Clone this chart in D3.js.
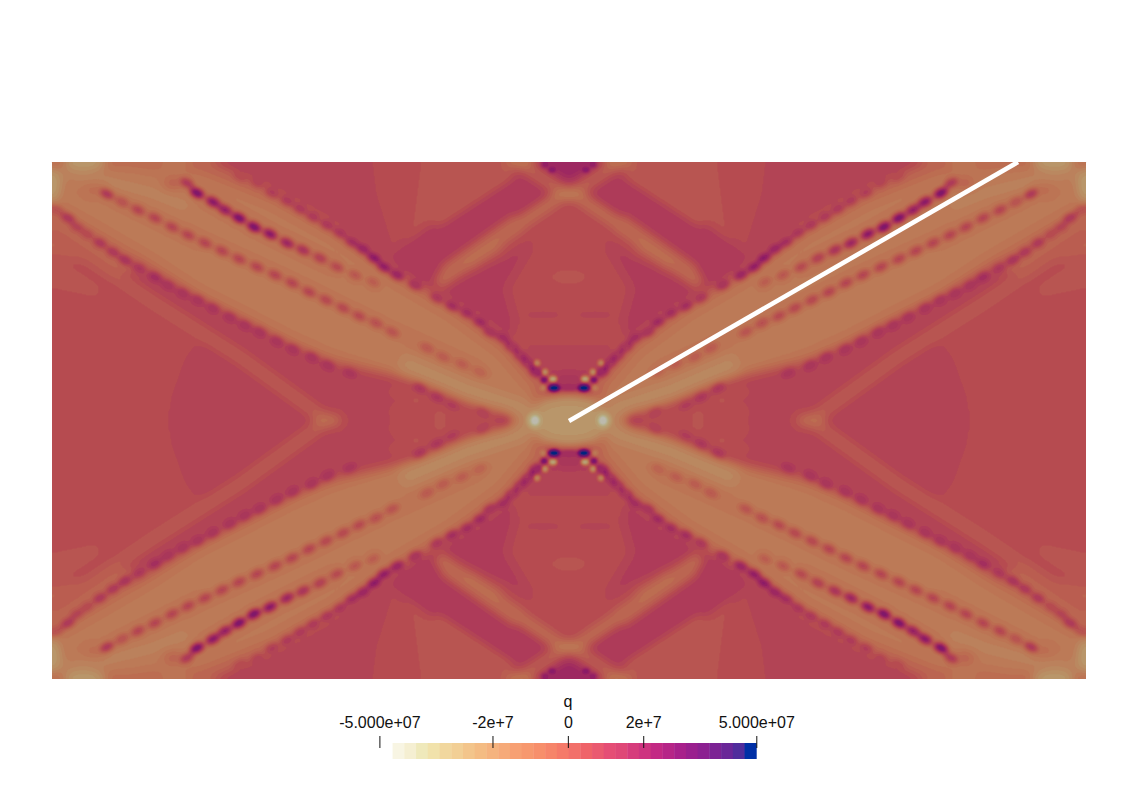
<!DOCTYPE html>
<html>
<head>
<meta charset="utf-8">
<title>q</title>
<script src="https://cdn.jsdelivr.net/npm/d3@7"></script>
<style>
  body { margin: 0; background: #fff; }
  text { font-family: "Liberation Sans", Arial, sans-serif; fill: #111; }
</style>
</head>
<body>
<div id="chart"></div>
<script>
const barColors = ["#f8f5e3","#f5efd2","#efe9bb","#f1e2ab","#f1d79e","#f2cf95","#f3c58b","#f4bc83",
  "#f5b37e","#f6aa79","#f7a073","#f7986e","#f78f6b","#f6856a","#f57a69","#f2706a","#ef6369","#ea5a70",
  "#e54e75","#df4877","#d63c7c","#ce3480","#c32984","#b62587","#a8208b","#9a1f8e","#8c2091","#7c2294",
  "#6a2698","#502c9c","#002fa6"];
const tickValues = [-5e7, -2e7, 0, 2e7, 5e7];
const tickLabels = ["-5.000e+07", "-2e+7", "0", "2e+7", "5.000e+07"];
const qMin = -4.65e7, qMax = 5e7;

// the field is mirrored about both axes, so only the top-left quarter is listed.
const meshX = [52, 1086], meshY = [162, 679];
const qBackground = 0.6;

// [q, outline]
const patches = [
  [0.25, [[52,250],[105,285],[100,302],[52,292]]],
  [0.85, [[173,430],[177,397],[190,360],[205,340],[150,300],[115,272],[150,262],[200,292],[330,358],[355,368],[360,430]]],
  [0.85, [[200,162],[367,162],[371,195],[385,240],[395,262],[410,290],[330,260],[250,210]]],
  [0.25, [[417,162],[520,162],[440,218],[407,242]]],
  [1.25, [[520,173],[553,195],[445,265],[437,290],[427,295],[393,272],[392,255],[440,218]]],
  [1.15, [[530,243],[507,258],[440,287],[428,298],[470,318],[510,352],[512,320],[503,288]]],
  [2.1, [[533,160],[569,183],[569,160]]],
  [0.45, [[505,350],[569,350],[569,322],[528,322]]],
  [0.8, [[520,345],[569,345],[569,385],[545,380]]],
  // fringe round the broad band
  [-0.5, [[50,160],[205,160],[270,188],[327,220],[373,253],[393,268],[453,303],[480,318],[513,344],[542,375],[550,400],[530,420],[500,412],[420,384],[350,367],[328,364],[293,347],[245,322],[197,300],[150,274],[100,268],[50,250]]],
  // body of the broad band
  [-1.25, [[50,166],[130,166],[200,174],[270,202],[330,235],[390,278],[450,313],[500,350],[532,388],[532,420],[500,408],[420,378],[350,361],[328,355],[293,340],[245,315],[197,291],[150,260],[100,231],[50,203]]],
  // wedge between the two arms, darker towards the crossing
  [0.7, [[328,420],[350,372],[420,388],[420,430],[328,430]]],
  [0.4, [[405,385],[510,413],[520,430],[395,430]]]
];

// [q, width, path]
const ridges = [
  [0.0, 18, [[510,170],[433,220]]],
  [-0.1, 20, [[520,222],[445,275]]],
  [-0.7, 13, [[558,198],[500,237],[450,272],[438,285]]],
  [-0.95, 8, [[500,245],[467,265]]],
  [-0.3, 10, [[560,190],[522,165]]],
  [-1.7, 14, [[60,172],[100,180],[150,192],[190,208]]],
  [-1.45, 30, [[400,356],[340,328],[270,293],[200,256]]],
  [-1.95, 22, [[530,412],[470,392],[400,362]]],
  [-0.1, 13, [[52,233],[150,300],[240,357],[327,420]]],
  [1.0, 6, [[340,368],[420,388],[450,402],[510,418]]],
  [0.9, 5, [[130,262],[197,300],[293,349],[350,373]]],
  [-0.8, 8, [[107,194],[205,243],[292,283],[392,332],[480,372]]],
  [-0.6, 8, [[197,193],[270,234],[337,267]]],
  [1.9, 7, [[545,388],[569,388]]]
];

// dots along the three dark streaks and the band edge: [x, y, q]
const outerDots = [[240,177,0.6],[257,183,0.9],[272,193,1.2],[287,201,1.3],[300,209,1.4],[313,217,1.4],[327,225,1.5],[340,233,1.6],[352,242,2],[363,249,2.5],[374,258,3],[384,267,2.8],[397,275,2.5],[415,285,1.8],[437,298,1.5],[452,306,2],[467,313,2],[480,322,2.2],[490,332,1.8],[503,338,2],[512,347,2.2],[521,356,2.2],[528,363,2.4],[536,372,3]];
const upperDots = [[187,183,1.5],[197,193,3.8],[213,202,3.2],[225,210,2.8],[239,218,3.8],[254,227,3.8],[270,234,3.2],[287,243,2.5],[303,250,1.8],[320,258,1.2],[337,267,0.8],[355,275,0.3],[373,282,0]];
const middleDots = [[107,194,1.5],[122,202,0.5],[138,210,1],[155,218,1],[172,227,1],[188,235,1],[205,243,1],[222,251,1],[239,259,1],[257,267,1],[275,275,1],[292,283,1],[309,292,1],[326,300,0.9],[343,308,0.9],[359,316,0.8],[376,323,0.6],[392,332,0.4],[427,348,0.2],[443,357,0.1],[462,364,0],[480,372,-0.2]];
const lowerDots = [[57,210,0.5],[68,218,1.5],[77,227,1],[87,234,0.8],[100,243,1.5],[113,252,1.5],[125,260,1.8],[139,268,1.5],[155,277,2],[168,285,1.7],[183,293,1.7],[198,300,1.7],[213,308,1.7],[230,317,1.7],[245,325,1.7],[260,332,1.7],[277,341,1.7],[293,349,1.7],[312,357,1.7],[328,365,1.7],[350,373,1.6],[420,388,1.5],[437,397,1.5],[452,405,1.2],[483,412,1],[502,420,0.8]];

// [x, y, rx, ry, q]
const softSpots = [
  [569,194,15,6,-1.6],[519,162,14,5,-1.5],[568,277,22,11,0.25],
  [52,185,9,17,-2.8],[85,162,21,8,-2.8],[175,164,14,6,-1.2],[173,183,9,5,0.1],[95,189,12,4,-0.3],
  [327,420,14,5,-1.0],[397,390,5,4,0.05],[417,399,5,4,0.05],[398,412,5,4,0.05],[440,415,5,4,0.05],
  [569,420,40,26,-2.5],[568,380,17,7,1.5]
];
const sharpSpots = [
  [569,388,16,2.5,1.9],
  [535,420,9,9,-2.9],[535,420,4.5,4.5,-4.6],
  [544,380,3.5,3,3.5],[536,372,3,3,2],[528,363,3,3,1.5],[520,355,3,3,1.5],[512,347,3,3,1.2],
  [553,372,3,3,1],[545,363,3,3,0.8],
  [553,379,4,3,-3.5],[545,372,3,3,-2.5],[537,363,3,3,-2],[543,388,3,3,-1.5],
  [554,388,6,3.8,6],
  [552,170,4,3,2.8],[545,165,4,3,2.5],
  [543,315,14,0.7,1.3]
];

// the white streak laid over the field
const streak = [[569,421],[1018,162]];

const W = meshX[1] - meshX[0], H = meshY[1] - meshY[0];
const x = d3.scaleLinear().domain(meshX).range([0, W]);
const y = d3.scaleLinear().domain(meshY).range([0, H]);
const gray = d3.scaleLinear().domain([-5, 5]).range([0, 255]);

// paint q as gray into a scratch canvas, one layer at a time, all four mirrors
const raw = document.createElement("canvas");
raw.width = W; raw.height = H;
const ctx = raw.getContext("2d", { willReadFrequently: true });
const mirrors = [[1,1,0,0],[-1,1,W,0],[1,-1,0,H],[-1,-1,W,H]];
function grayOf(q) { const g = Math.round(gray(q)); return `rgb(${g},${g},${g})`; }
function eachMirror(fn) {
  mirrors.forEach(m => { ctx.setTransform(m[0],0,0,m[1],m[2],m[3]); fn(); });
}

// blur with mirrored tiles around it so the edges stay clean
const pad = 14;
function blurred(source, sigma) {
  const tiled = document.createElement("canvas");
  tiled.width = W + 2 * pad; tiled.height = H + 2 * pad;
  const tctx = tiled.getContext("2d");
  [-1,0,1].forEach(i => [-1,0,1].forEach(j => {
    const sx = i === 0 ? 1 : -1, sy = j === 0 ? 1 : -1;
    const ox = i <= 0 ? pad : pad + 2 * W;
    const oy = j <= 0 ? pad : pad + 2 * H;
    tctx.setTransform(sx,0,0,sy,ox,oy);
    tctx.drawImage(source, 0, 0);
  }));
  const soft = document.createElement("canvas");
  soft.width = tiled.width; soft.height = tiled.height;
  const sctx = soft.getContext("2d", { willReadFrequently: true });
  sctx.filter = `blur(${sigma}px)`;
  sctx.drawImage(tiled, 0, 0);
  return sctx.getImageData(pad, pad, W, H);
}

ctx.fillStyle = grayOf(qBackground);
ctx.fillRect(0, 0, W, H);

const outline = d3.line().x(d => x(d[0])).y(d => y(d[1])).context(ctx);
ctx.lineCap = "butt"; ctx.lineJoin = "round";

patches.forEach(([q, pts]) => {
  ctx.fillStyle = grayOf(q);
  eachMirror(() => { ctx.beginPath(); outline(pts); ctx.closePath(); ctx.fill(); });
});
ridges.forEach(([q, w, pts]) => {
  ctx.strokeStyle = grayOf(q); ctx.lineWidth = w;
  eachMirror(() => { ctx.beginPath(); outline(pts); ctx.stroke(); });
});
softSpots.forEach(s => {
  ctx.fillStyle = grayOf(s[4]);
  eachMirror(() => { ctx.beginPath(); ctx.ellipse(x(s[0]), y(s[1]), s[2], s[3], 0, 0, 2 * Math.PI); ctx.fill(); });
});
ctx.setTransform(1,0,0,1,0,0);

// first pass takes the hard edges off the large shapes
ctx.putImageData(blurred(raw, 4), 0, 0);

[outerDots, upperDots, middleDots, lowerDots].forEach(list => list.forEach(d => {
  ctx.fillStyle = grayOf(d[2]);
  eachMirror(() => { ctx.beginPath(); ctx.ellipse(x(d[0]), y(d[1]), 7.5, 4.2, 0.47, 0, 2 * Math.PI); ctx.fill(); });
}));
ctx.setTransform(1,0,0,1,0,0);
ctx.putImageData(blurred(raw, 2.2), 0, 0);

sharpSpots.forEach(s => {
  ctx.fillStyle = grayOf(s[4]);
  eachMirror(() => { ctx.beginPath(); ctx.ellipse(x(s[0]), y(s[1]), s[2], s[3], 0, 0, 2 * Math.PI); ctx.fill(); });
});
ctx.setTransform(1,0,0,1,0,0);

const pix = blurred(raw, 1.7).data;
const values = new Float64Array(W * H);
for (let i = 0; i < W * H; i++) values[i] = gray.invert(pix[i * 4]);

// ---- svg ----
const svg = d3.select("#chart").append("svg").attr("width", 1138).attr("height", 802);

// field colours come out darker than the bar because of the lighting
const shade = 0.76;
const edges = barColors.map((c, i) => (qMin + (qMax - qMin) * i / barColors.length) / 1e7);
const litColor = c => { const r = d3.rgb(c); return d3.rgb(r.r * shade, r.g * shade, r.b * shade).formatHex(); };

const field = svg.append("g").attr("transform", `translate(${meshX[0]},${meshY[0]})`);
field.append("rect").attr("width", W).attr("height", H).attr("fill", litColor(barColors[17]));

const contours = d3.contours().size([W, H]).thresholds(edges)(values);
const path = d3.geoPath();
field.selectAll("path.band")
  .data(contours.filter(c => c.coordinates.length))
  .enter().append("path")
  .attr("class", "band")
  .attr("d", path)
  .attr("fill", d => litColor(barColors[edges.indexOf(d.value)]));

svg.append("line")
  .attr("x1", streak[0][0]).attr("y1", streak[0][1])
  .attr("x2", streak[1][0]).attr("y2", streak[1][1])
  .attr("stroke", "#fff").attr("stroke-width", 4.6);

// colour bar
const legendX = d3.scaleLinear().domain([-5e7, 5e7]).range([379.4, 756.3]);
const barY = 743, barH = 16;
const stepQ = (qMax - qMin) / barColors.length;
svg.append("g").selectAll("rect")
  .data(barColors)
  .enter().append("rect")
  .attr("x", (d, i) => legendX(qMin + i * stepQ))
  .attr("y", barY)
  .attr("width", stepQ * (legendX(1) - legendX(0)) + 0.4)
  .attr("height", barH)
  .attr("fill", d => d);

const axis = d3.axisTop(legendX)
  .tickValues(tickValues)
  .tickFormat((d, i) => tickLabels[i])
  .tickSize(12)
  .tickPadding(8);
const axisG = svg.append("g").attr("transform", "translate(0,748)").call(axis);
axisG.select(".domain").remove();
axisG.selectAll(".tick line").attr("stroke", "#111");
axisG.selectAll("text").attr("font-size", 16).attr("font-family", '"Liberation Sans", Arial, sans-serif').attr("fill", "#111");

svg.append("text")
  .attr("x", 568).attr("y", 707)
  .attr("text-anchor", "middle")
  .attr("font-size", 16)
  .text("q");
</script>
</body>
</html>
